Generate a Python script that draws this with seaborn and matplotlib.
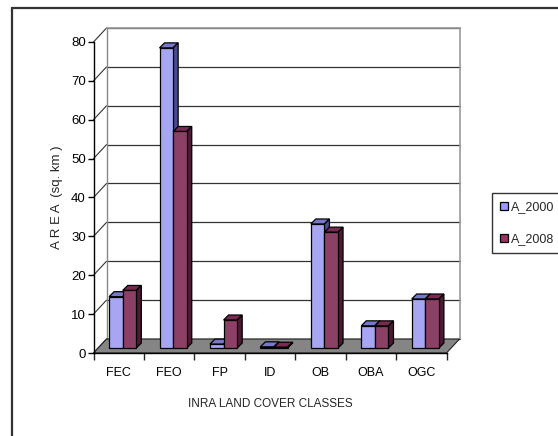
import numpy as np
import pandas as pd
import matplotlib
matplotlib.use("Agg")
import matplotlib.pyplot as plt
import matplotlib.transforms as mtransforms
from matplotlib.patches import Polygon, Patch
from matplotlib.lines import Line2D
import seaborn as sns

# Land cover areas (sq. km) per INRA class
classes = ["FEC", "FEO", "FP", "ID", "OB", "OBA", "OGC"]
area_2000 = [13.2, 77.2, 1.0, 0.3, 31.9, 5.7, 12.6]
area_2008 = [14.8, 55.7, 7.2, 0.2, 29.8, 5.7, 12.6]
series = ["A_2000", "A_2008"]
y_ticks = [0, 10, 20, 30, 40, 50, 60, 70, 80]

df = pd.DataFrame({
    "class": classes * 2,
    "area": area_2000 + area_2008,
    "year": [series[0]] * len(classes) + [series[1]] * len(classes),
})

sns.set_style("white")
plt.rcParams["font.family"] = ["Liberation Sans", "DejaVu Sans"]

front_cols = {"A_2000": "#9999FF", "A_2008": "#993366"}
top_cols = {"A_2000": "#7777CC", "A_2008": "#7A2952"}
side_cols = {"A_2000": "#4A4A8C", "A_2008": "#4C1A33"}

W, H = 558, 436
fig = plt.figure(figsize=(W / 100, H / 100), dpi=100)
ax = fig.add_axes([93.5 / W, (H - 353) / H, 353 / W, 311 / H])

sns.barplot(data=df, x="class", y="area", hue="year", order=classes,
            hue_order=series, palette=front_cols, width=0.54,
            edgecolor="black", linewidth=0.9, ax=ax, legend=False)

ax.set_xlim(-0.5, len(classes) - 0.5)
ax.set_ylim(0, 80)
ax.set_xlabel("")
ax.set_ylabel("")

xmin, xmax = ax.get_xlim()

# depth offsets in pixels
wall = (13, 14)      # floor / back wall depth
bar_at = (4, 5)      # front face of the bars
bar_d = (5, 5)       # bar thickness


def lift(x, y, px, py):
    d = ax.transData.transform((x, y)) + np.array([px, py])
    return ax.transData.inverted().transform(d)


back = mtransforms.offset_copy(ax.transData, fig=fig, x=wall[0], y=wall[1], units="dots")

# floor
floor = Polygon([lift(xmin, 0, 0, 0), lift(xmax, 0, 0, 0),
                 lift(xmax, 0, *wall), lift(xmin, 0, *wall)],
                closed=True, facecolor="#858585", edgecolor="#222222",
                linewidth=0.8, zorder=1, clip_on=False)
ax.add_patch(floor)

# back wall gridlines and left wall diagonals
for v in y_ticks:
    ax.plot([xmin, xmax], [v, v], color="#333333", lw=0.9, transform=back,
            zorder=0.5, clip_on=False)
    p0 = lift(xmin, v, 0, 0)
    p1 = lift(xmin, v, *wall)
    ax.plot([p0[0], p1[0]], [p0[1], p1[1]], color="#333333", lw=0.8,
            zorder=0.5, clip_on=False)
ax.plot([xmin, xmin], [0, 80], color="#888888", lw=1.0, transform=back,
        zorder=0.6, clip_on=False)
ax.plot([xmax, xmax], [0, 80], color="#999999", lw=1.2, transform=back,
        zorder=0.6, clip_on=False)
ax.plot([xmin, xmax], [80, 80], color="#999999", lw=1.2, transform=back,
        zorder=0.6, clip_on=False)

# bars: shift seaborn's front faces into the floor and add top/side faces
front = mtransforms.offset_copy(ax.transData, fig=fig, x=bar_at[0], y=bar_at[1], units="dots")
bars = [p for p in ax.patches if p is not floor]
bars = sorted(bars, key=lambda p: p.get_x())
for i, p in enumerate(bars):
    z = 2 + i
    x0 = p.get_x()
    x1 = x0 + p.get_width()
    h = p.get_height()
    name = series[0] if p.get_facecolor()[2] > 0.7 else series[1]
    p.set_transform(front)
    p.set_zorder(z + 0.5)
    p.set_clip_on(False)
    ox, oy = bar_at
    ex, ey = bar_at[0] + bar_d[0], bar_at[1] + bar_d[1]
    top = Polygon([lift(x0, h, ox, oy), lift(x1, h, ox, oy),
                   lift(x1, h, ex, ey), lift(x0, h, ex, ey)],
                  closed=True, facecolor=top_cols[name], edgecolor="black",
                  linewidth=0.9, zorder=z, clip_on=False)
    side = Polygon([lift(x1, 0, ox, oy), lift(x1, 0, ex, ey),
                    lift(x1, h, ex, ey), lift(x1, h, ox, oy)],
                   closed=True, facecolor=side_cols[name], edgecolor="black",
                   linewidth=0.9, zorder=z, clip_on=False)
    ax.add_patch(top)
    ax.add_patch(side)

# axes
for s in ["top", "right"]:
    ax.spines[s].set_visible(False)
for s in ["left", "bottom"]:
    ax.spines[s].set_color("black")
    ax.spines[s].set_linewidth(1.0)
    ax.spines[s].set_zorder(50)

ax.set_yticks(y_ticks)
ax.set_yticklabels([str(v) for v in y_ticks])
ax.tick_params(axis="y", which="major", left=True, length=4, width=1.0,
               direction="out", pad=1.5, labelsize=9.5, colors="black")
ax.set_xticks(range(len(classes)))
ax.set_xticklabels(classes)
ax.set_xticks(np.arange(xmin, xmax + 0.01, 1.0), minor=True)
ax.tick_params(axis="x", which="major", bottom=False, length=0, pad=10,
               labelsize=9, colors="black")
ax.tick_params(axis="x", which="minor", bottom=True, length=5, width=1.0,
               direction="out")
ax.grid(False)

fig.text(57 / W, 1 - 197 / H, "A R E A  (sq. km )", rotation=90,
         ha="center", va="center", fontsize=9.5)
fig.text(270 / W, 1 - 404 / H, "INRA LAND COVER CLASSES",
         ha="center", va="center", fontsize=8.5)

handles = [Patch(facecolor=front_cols[s], edgecolor="black", linewidth=0.9) for s in series]
leg = fig.legend(handles, series, loc="upper left",
                 bbox_to_anchor=(492 / W, 1 - 193 / H), frameon=True,
                 fancybox=False, edgecolor="black", fontsize=9,
                 handlelength=0.6, handleheight=0.6, handletextpad=0.3,
                 labelspacing=1.6, borderpad=0.65, borderaxespad=0)
leg.get_frame().set_linewidth(1.0)

# outer frame (left and top edges)
fig.add_artist(Line2D([12 / W, 12 / W], [0, 1 - 8 / H], color="#333333",
                      lw=1.6, transform=fig.transFigure))
fig.add_artist(Line2D([12 / W, 1], [1 - 8 / H, 1 - 8 / H], color="#333333",
                      lw=1.6, transform=fig.transFigure))

fig.savefig("out.png", dpi=100, facecolor="white")
